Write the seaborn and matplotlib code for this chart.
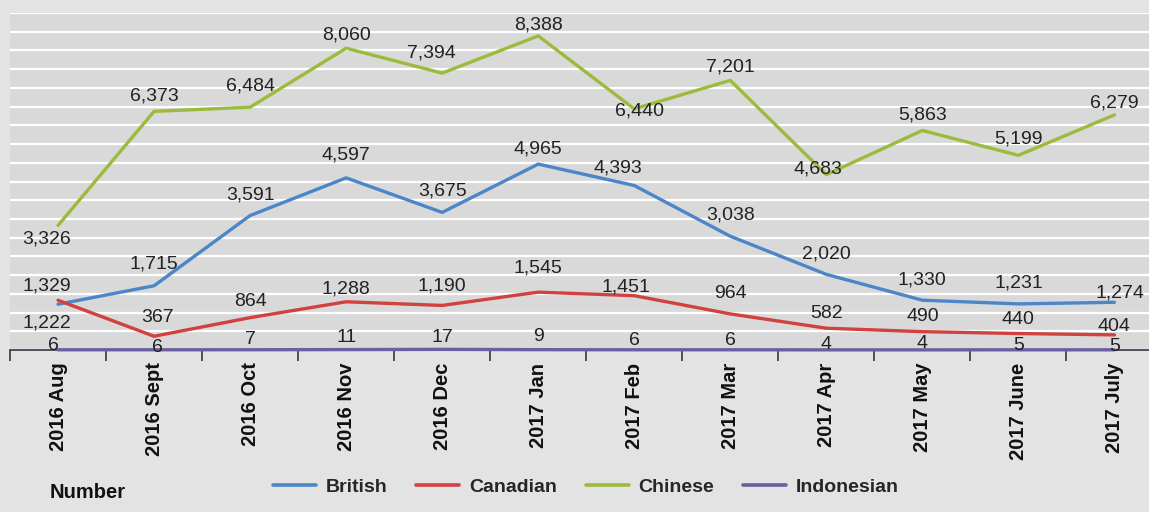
import seaborn as sns
import matplotlib.pyplot as plt
import matplotlib.ticker as mticker
from matplotlib.lines import Line2D
import pandas as pd

months = ["2016 Aug", "2016 Sept", "2016 Oct", "2016 Nov", "2016 Dec", "2017 Jan",
          "2017 Feb", "2017 Mar", "2017 Apr", "2017 May", "2017 June", "2017 July"]
british = [1222, 1715, 3591, 4597, 3675, 4965, 4393, 3038, 2020, 1330, 1231, 1274]
canadian = [1329, 367, 864, 1288, 1190, 1545, 1451, 964, 582, 490, 440, 404]
chinese = [3326, 6373, 6484, 8060, 7394, 8388, 6440, 7201, 4683, 5863, 5199, 6279]
indonesian = [6, 6, 7, 11, 17, 9, 6, 6, 4, 4, 5, 5]

series = {"British": british, "Canadian": canadian, "Chinese": chinese, "Indonesian": indonesian}
colors = {"British": "#4a86c8", "Canadian": "#d0413f", "Chinese": "#9cbb3c", "Indonesian": "#6b5fa0"}

# label offsets in pixels (dx, dy) relative to each point
offsets = {
    "British": [(-11, -19), (0, 22), (0, 21), (0, 23), (0, 21), (0, 15), (-16, 18), (0, 21),
                (0, 20), (0, 20), (0, 21), (6, 9)],
    "Canadian": [(-11, 14), (3, 19), (0, 16), (0, 13), (0, 19), (0, 24), (-8, 9), (0, 20),
                 (0, 15), (0, 15), (0, 14), (0, 8)],
    "Chinese": [(-11, -14), (0, 15), (0, 21), (0, 13), (-11, 20), (0, 11), (5, -2), (0, 13),
                (-8, 6), (0, 15), (0, 16), (0, 12)],
    "Indonesian": [(-5, 4), (3, 2), (0, 10), (0, 12), (0, 12), (0, 13), (0, 9), (0, 9),
                   (0, 5), (0, 6), (0, 4), (0, 3)],
}

rows = []
for name, vals in series.items():
    for i, v in enumerate(vals):
        rows.append({"idx": i, "month": months[i], "value": v, "nat": name})
df = pd.DataFrame(rows)

sns.set_theme(style="white")
plt.rcParams["font.family"] = ["Liberation Sans", "DejaVu Sans"]

fig = plt.figure(figsize=(11.49, 5.12), dpi=100, facecolor="#e3e3e3")
ax = fig.add_axes([10 / 1149, 162 / 512, 1 - 10 / 1149, 337 / 512])
ax.set_facecolor("#d9d9d9")

sns.lineplot(data=df, x="idx", y="value", hue="nat", palette=colors, linewidth=2.4,
             legend=False, ax=ax, zorder=3, clip_on=False)

for name, vals in series.items():
    for i, v in enumerate(vals):
        dx, dy = offsets[name][i]
        ax.annotate(f"{v:,}", (i, v), xytext=(dx, dy), textcoords="offset pixels",
                    ha="center", va="center", fontsize=14, color="#222222", zorder=4)

ax.yaxis.set_major_locator(mticker.MultipleLocator(500))
ax.grid(axis="y", color="white", linewidth=1.6)
ax.set_axisbelow(True)
ax.set_yticklabels([])
ax.tick_params(axis="y", length=0)

ax.set_xticks(range(len(months)))
ax.set_xticklabels(months, rotation=90, fontsize=14.5, fontweight="bold", color="#111111")
ax.set_xticks([i - 0.5 for i in range(len(months) + 1)], minor=True)
ax.tick_params(axis="x", which="major", bottom=True, length=0, pad=9)
ax.tick_params(axis="x", which="minor", bottom=True, length=8, width=1.2,
               color="#333344", direction="out")
ax.set_xlabel("")
ax.set_ylabel("")
ax.set_ylim(0, 9000)
ax.set_xlim(-0.5, 11.36)

for s in ["top", "left", "right"]:
    ax.spines[s].set_visible(False)
ax.spines["bottom"].set_color("#333344")
ax.spines["bottom"].set_linewidth(1.2)

handles = [Line2D([0], [0], color=colors[n], linewidth=2.6) for n in series]
leg = fig.legend(handles, list(series.keys()), loc="center", bbox_to_anchor=(0.51, 0.048),
                 ncol=4, frameon=False, prop={"size": 14, "weight": "bold"},
                 handlelength=2.2, columnspacing=1.5, handletextpad=0.5)
fig.text(50 / 1149, 0.038, "Number", fontsize=14.5, fontweight="bold", va="center", color="#111111")

fig.savefig("out.png", dpi=100, facecolor=fig.get_facecolor())
